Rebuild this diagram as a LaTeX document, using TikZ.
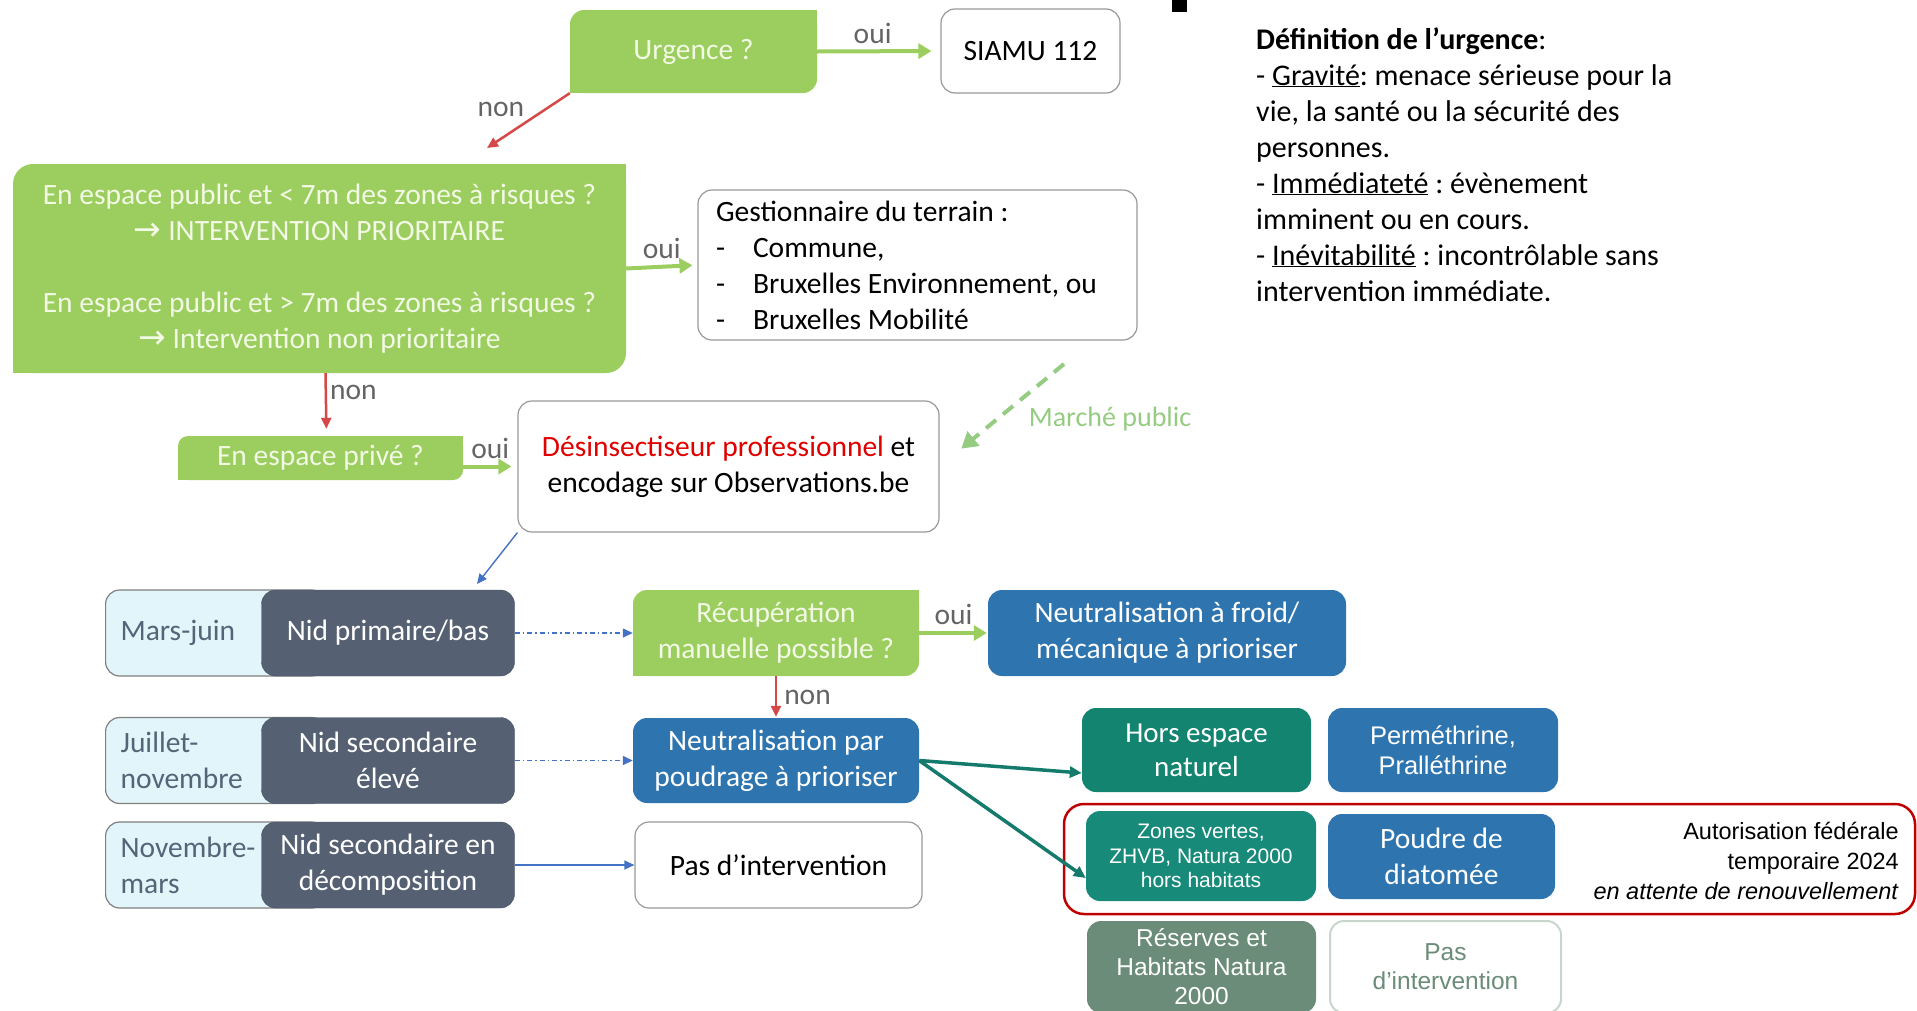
\documentclass[tikz,border=0pt]{standalone}
\usepackage{fontspec}
\setmainfont{Carlito}
\newfontfamily\arialf{Liberation Sans}
\newfontfamily\symf{DejaVu Sans}
\usepackage{tikz}
\usetikzlibrary{calc}
\usetikzlibrary{arrows.meta}
\frenchspacing
\definecolor{qgreen}{RGB}{155,206,95}
\definecolor{qtext}{RGB}{242,249,228}
\definecolor{ablue}{RGB}{46,117,176}
\definecolor{nslate}{RGB}{85,96,115}
\definecolor{mcyan}{RGB}{226,245,250}
\definecolor{mtext}{RGB}{86,100,120}
\definecolor{tealA}{RGB}{18,132,112}
\definecolor{tealB}{RGB}{24,138,122}
\definecolor{tealarr}{RGB}{20,122,108}
\definecolor{sage}{RGB}{106,140,120}
\definecolor{sageline}{RGB}{200,214,205}
\definecolor{lblgray}{RGB}{100,100,100}
\definecolor{arrred}{RGB}{214,72,72}
\definecolor{boxred}{RGB}{192,0,0}
\definecolor{mpgreen}{RGB}{150,204,130}
\definecolor{desred}{RGB}{224,0,0}
\definecolor{lnblue}{RGB}{68,114,196}
\newcommand{\bigtext}{\fontsize{29.5}{36}\selectfont}
\newcommand{\afont}[2]{\fontsize{#1}{#2}\arialf}
% square off the top right and bottom left corners of a green box
\newcommand{\sharpcorners}[2][14pt]{\fill[qgreen] (#2.north east) rectangle ++(-#1,-#1); \fill[qgreen] (#2.south west) rectangle ++(#1,#1);}
% month box with the nest box on top of it
\newcommand{\nidrow}[5]{\node[mbox, anchor=west] (#1) at (105,#3) {#4}; \node[nbox] (#2) at (388,#3) {#5};}
\tikzset{
  qbox/.style={fill=qgreen, text=qtext, rounded corners=14pt, inner sep=0pt, align=center, font=\bigtext},
  wbox/.style={draw=gray!80, line width=1.2pt, fill=white, rounded corners=14pt, inner sep=0pt, align=center, font=\bigtext},
  bbox/.style={fill=ablue, text=white, rounded corners=14pt, inner sep=0pt, align=center, font=\bigtext},
  nbox/.style={fill=nslate, draw=nslate!85!black, text=white, rounded corners=14pt, inner sep=0pt, align=center, font=\bigtext, minimum width=253pt, minimum height=86pt},
  mbox/.style={fill=mcyan, draw=gray, line width=1.2pt, text=mtext, rounded corners=14pt, align=flush left, text width=190pt, inner xsep=15pt, inner ysep=0pt, minimum height=86pt, font=\bigtext},
  lbl/.style={text=lblgray, font=\bigtext, inner sep=6pt},
  ouiarrow/.style={draw=qgreen, line width=4pt, -{Triangle[length=13pt,width=15pt]}},
  nonarrow/.style={draw=arrred, line width=2.5pt, -{Triangle[length=11pt,width=10pt]}},
  lnkarrow/.style={draw=lnblue, line width=1.4pt, -{Triangle[length=10pt,width=9pt]}},
  dotarrow/.style={draw=lnblue, line width=1.4pt, dash pattern=on 5pt off 3pt on 1.5pt off 3pt, -{Triangle[length=10pt,width=9pt]}},
  tealarrow/.style={draw=tealarr, line width=3.5pt, -{Triangle[length=12pt,width=11pt]}},
  mparrow/.style={draw=mpgreen, line width=4pt, dash pattern=on 13pt off 9pt, -{Triangle[length=16pt,width=18pt]}},
}
\begin{document}
\begin{tikzpicture}[x=1pt,y=-1pt]
\useasboundingbox (0,0) rectangle (1917,1010);
% top
\fill (1172,0) rectangle (1187,12);
\node[qbox, minimum width=247pt, minimum height=83pt] (urg) at (693.5,51.5) {Urgence ?};
\sharpcorners{urg}
\node[wbox, minimum width=179pt, minimum height=84pt] (siamu) at (1030.5,51) {SIAMU 112};
\coordinate (nonend) at (487,148);
% public space
\node[qbox, rounded corners=20pt, minimum width=613pt, minimum height=209pt] (big) at (319.5,268.5)
  {En espace public et < 7m des zones à risques ?\\ {\symf\fontsize{33}{36}\selectfont →} INTERVENTION PRIORITAIRE\\[36pt]
   En espace public et > 7m des zones à risques ?\\ {\symf\fontsize{33}{36}\selectfont →} Intervention non prioritaire};
\sharpcorners[20pt]{big}
\node[wbox, align=flush left, text width=403pt, inner xsep=18pt, minimum height=150pt] (gest) at (917.5,265)
  {Gestionnaire du terrain :\\ \makebox[37pt][l]{-}Commune,\\ \makebox[37pt][l]{-}Bruxelles Environnement, ou\\ \makebox[37pt][l]{-}Bruxelles Mobilité};
% private space
\node[qbox, rounded corners=10pt, minimum width=285pt, minimum height=44pt] (priv) at (320.5,458) {En espace privé ?};
\sharpcorners[10pt]{priv}
\node[wbox, minimum width=421pt, minimum height=131pt] (des) at (728.5,466.5)
  {{\color{desred}Désinsectiseur professionnel} et\\ encodage sur Observations.be};
\coordinate (mpstart) at (1064,364);
\node[text=mpgreen, font=\fontsize{28}{34}\selectfont, inner sep=0pt] (mplabel) at (1110,419) {Marché public};
\coordinate (nidin) at (477,584);
% definition
\node[anchor=north west, align=flush left, inner sep=0pt, font=\fontsize{30}{36}\selectfont] (defn) at (1256,27)
  {\textbf{Définition de l’urgence}:\\
   - \underline{Gravité}: menace sérieuse pour la\\
   vie, la santé ou la sécurité des\\
   personnes.\\
   - \underline{Immédiateté} : évènement\\
   imminent ou en cours.\\
   - \underline{Inévitabilité} : incontrôlable sans\\
   intervention immédiate.};
% rows
\nidrow{mois1}{nid1}{633}{Mars-juin}{Nid primaire/bas}
\nidrow{mois2}{nid2}{760.5}{Juillet-\\novembre}{Nid secondaire\\élevé}
\nidrow{mois3}{nid3}{865}{Novembre-\\mars}{Nid secondaire en\\décomposition}
\node[qbox, minimum width=286pt, minimum height=86pt] (recup) at (776,633) {Récupération\\manuelle possible ?};
\sharpcorners{recup}
\node[bbox, minimum width=358pt, minimum height=86pt] (froid) at (1167,633) {Neutralisation à froid/\\mécanique à prioriser};
\node[bbox, minimum width=286pt, minimum height=85pt] (poud) at (776,760.5) {Neutralisation par\\poudrage à prioriser};
\node[wbox, minimum width=287pt, minimum height=86pt] (pas) at (778.5,865) {Pas d’intervention};
% products
\node[bbox, fill=tealA, minimum width=229pt, minimum height=84pt, font=\fontsize{29}{34}\selectfont] (hors) at (1196.5,750) {Hors espace\\naturel};
\node[bbox, minimum width=230pt, minimum height=84pt, font=\afont{25.5}{30.5}] (perm) at (1443,750) {Perméthrine,\\Pralléthrine};
\draw[boxred, line width=2.5pt, rounded corners=20pt] (1064,804) rectangle (1915,914);
\node[bbox, fill=tealB, minimum width=230pt, minimum height=90pt, font=\afont{21}{24.5}] (zones) at (1201,856) {Zones vertes,\\ZHVB, Natura 2000\\hors habitats};
\node[bbox, minimum width=227pt, minimum height=85pt] (poudre) at (1441.5,856.5) {Poudre de\\diatomée};
\node[anchor=east, align=right, inner sep=0pt, font=\afont{23.5}{30}] (autor) at (1899,861)
  {Autorisation fédérale\\temporaire 2024\\\textit{en attente de renouvellement}};
\node[bbox, fill=sage, minimum width=229pt, minimum height=92pt, font=\afont{24.5}{29}] (reserve) at (1201.5,967) {Réserves et\\Habitats Natura\\2000};
\node[wbox, draw=sageline, line width=2pt, text=sage, minimum width=231pt, minimum height=92pt, font=\afont{24.5}{29}] (pasnat) at (1445.5,967) {Pas\\d’intervention};
% connectors
\draw[ouiarrow, shorten >=9pt] (urg.east) -- node[lbl, above, pos=0.45] {oui} (siamu.west);
\draw[nonarrow] (urg.south west) -- node[lbl, above left, inner sep=3pt] {non} (nonend);
\draw[ouiarrow, shorten >=5pt] (big.east) -- node[lbl, above] {oui} (gest.west);
\draw[nonarrow, shorten >=7pt] ([xshift=6pt]big.south) -- node[lbl, right, inner sep=3pt, pos=0.3] {non} ([xshift=6pt]priv.north);
\draw[ouiarrow, shorten >=6pt] (priv.east |- des.west) -- node[lbl, above] {oui} (des.west);
\draw[mparrow, shorten >=28pt] (mpstart) -- (des.east);
\draw[lnkarrow] (des.south west) -- (nidin);
\draw[dotarrow] (nid1.east) -- (recup.west);
\draw[ouiarrow, shorten >=1pt] (recup.east) -- node[lbl, above] {oui} (froid.west);
\draw[nonarrow, shorten >=1pt] (recup.south) -- node[lbl, right, inner sep=3pt, xshift=4pt] {non} (poud.north);
\draw[dotarrow] (nid2.east) -- (poud.west);
\draw[tealarrow] (poud.east) -- ([yshift=-23pt]hors.west);
\draw[tealarrow] (poud.east) -- ([yshift=-22pt]zones.west);
\draw[lnkarrow] (nid3.east) -- (pas.west);
\end{tikzpicture}
\end{document}
